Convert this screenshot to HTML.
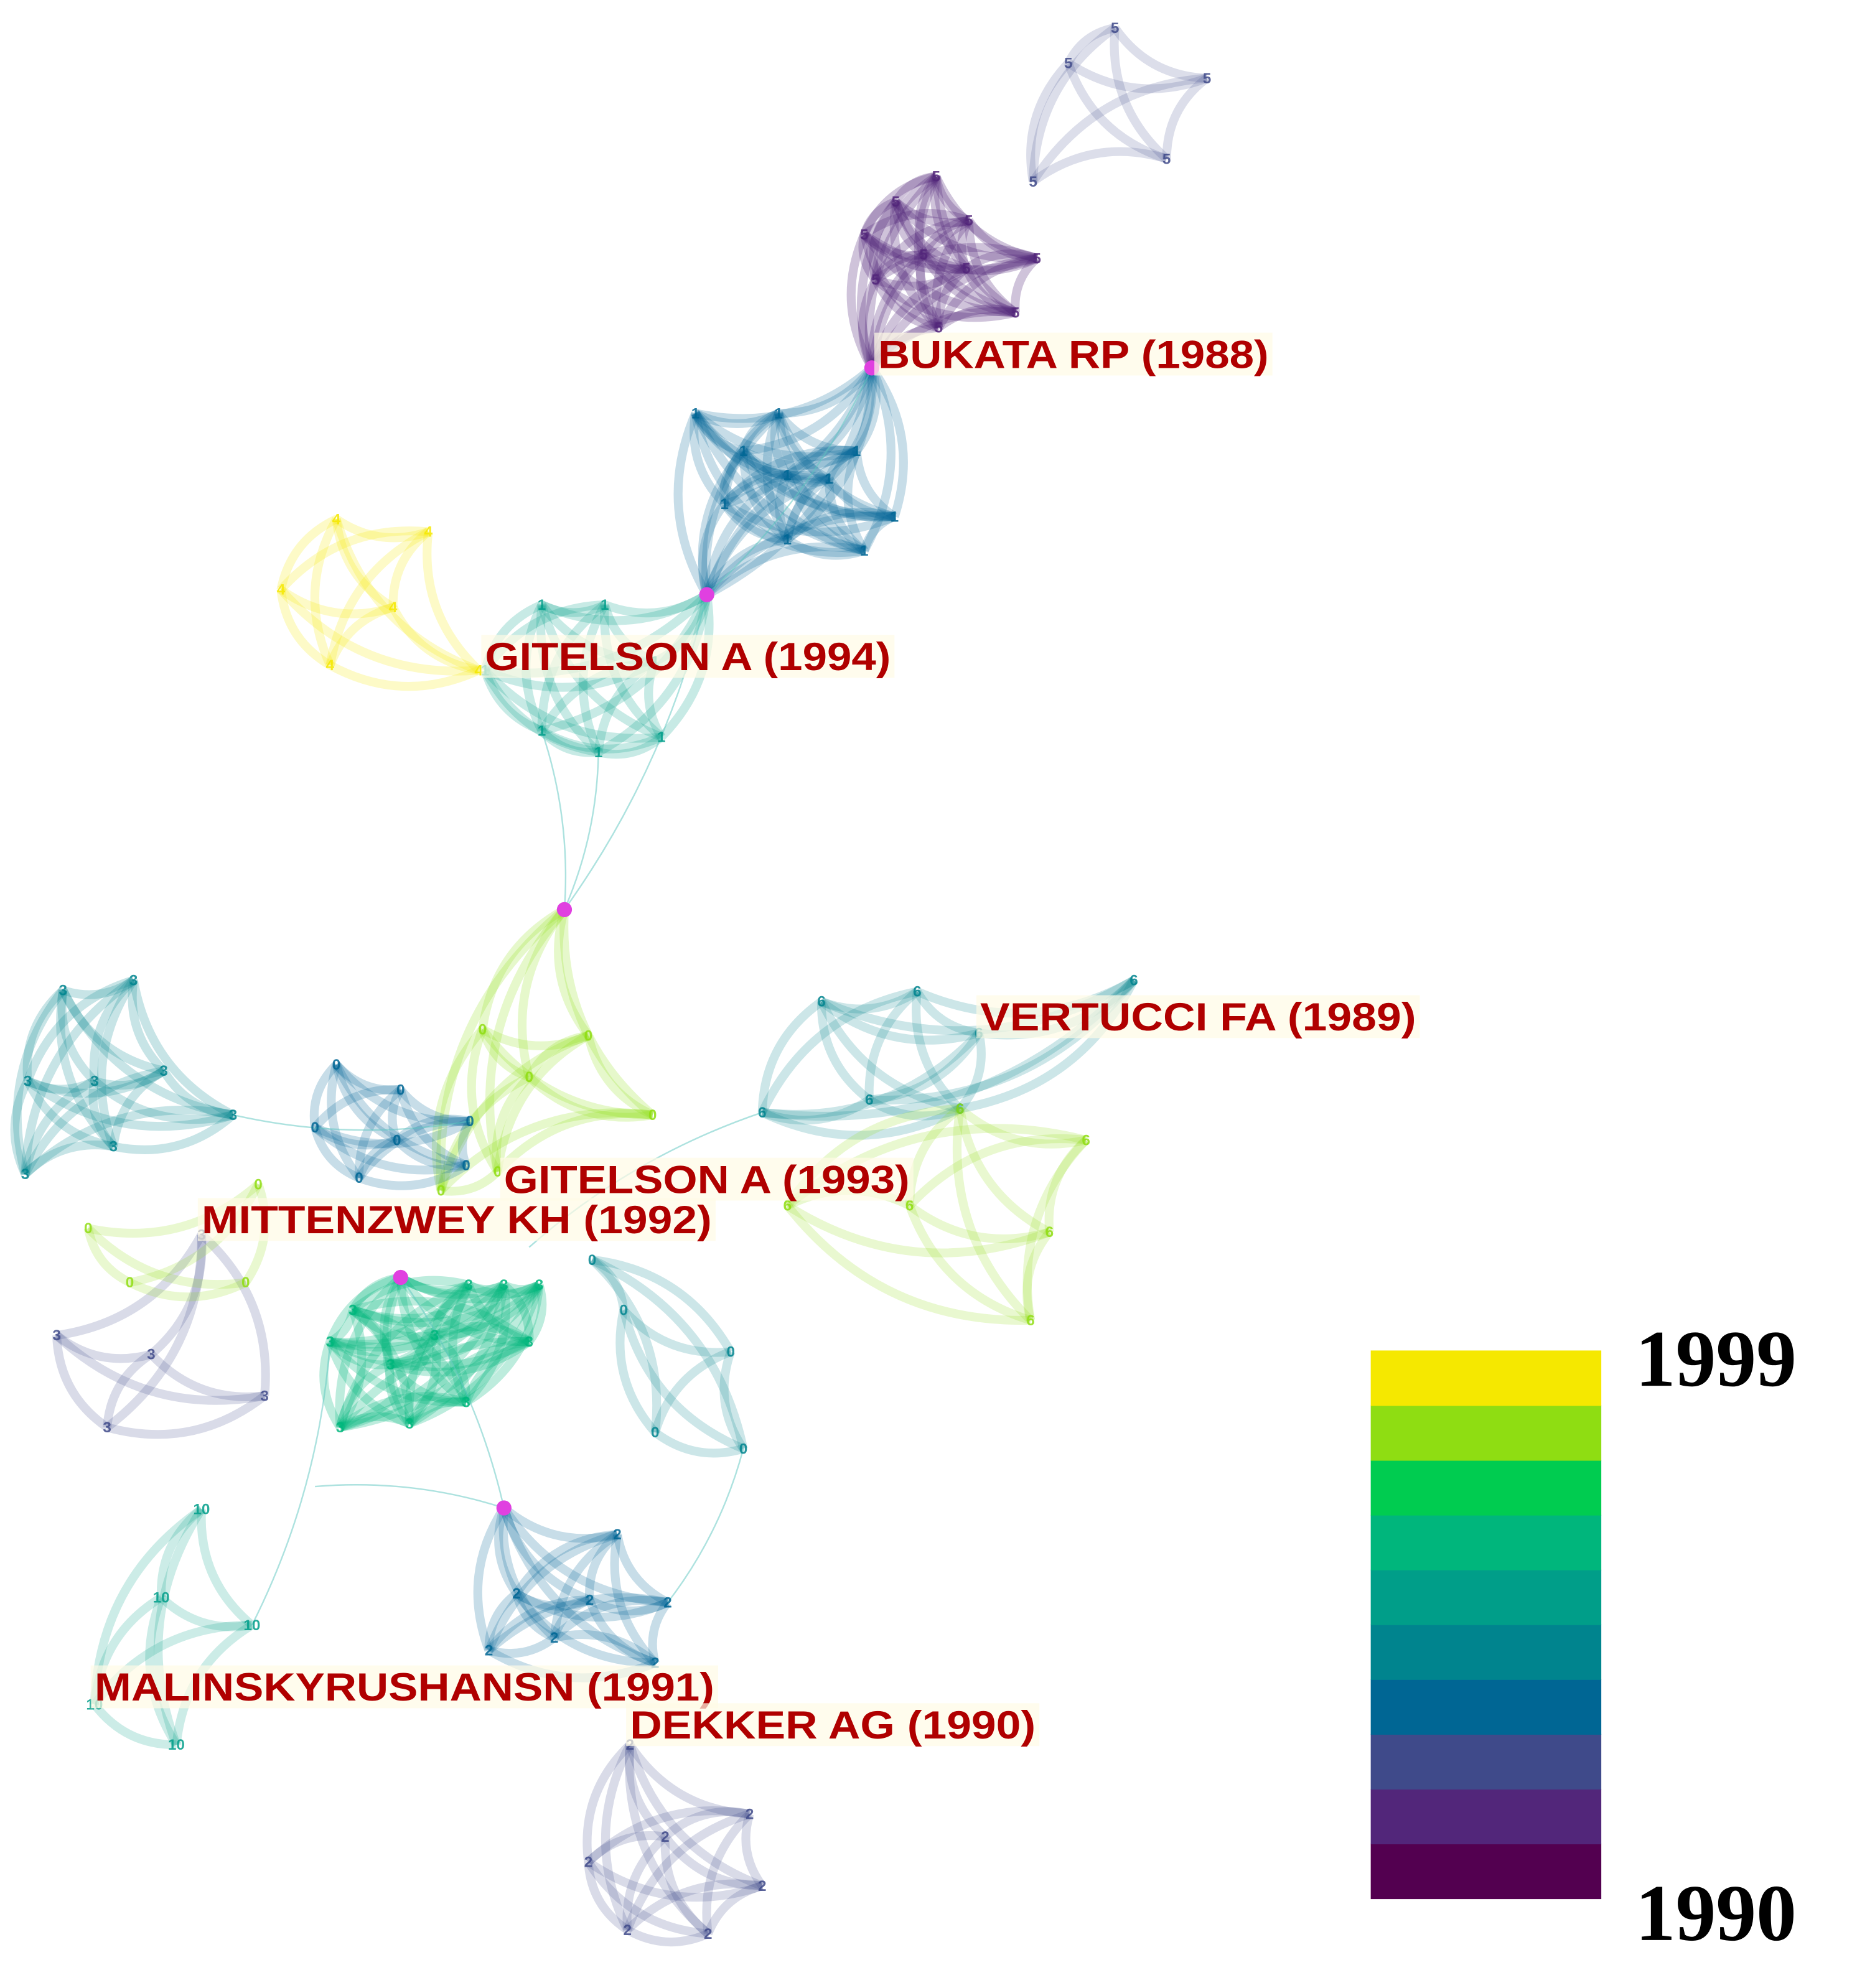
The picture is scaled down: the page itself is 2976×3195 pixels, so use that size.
<!DOCTYPE html>
<html><head><meta charset="utf-8"><style>
html,body{margin:0;padding:0;background:#fff;}
svg{display:block;}
</style></head><body>
<svg id="chart" width="2976" height="3195" viewBox="0 0 1470 1578" xmlns="http://www.w3.org/2000/svg">
<rect width="1470" height="1578" fill="#fff"/>
<g id="edges"></g>
<g id="nodes"></g>
<g id="labels"></g>
<g id="legend"></g>
</svg>
<script>
const years = [1990,1991,1992,1993,1994,1995,1996,1997,1998,1999];
const yearColors = ["#530050","#52267a","#3f4a8a","#006694","#00848e","#009e89","#00b67c","#00cc50","#8fdd12","#f5e800"];
const clusterYears = [1992,1991,1993,1999,1995,1998,1994,1993,1994,1998,1996,1992,1998,1994,1993,1992,1995];
const clusterTags = ["5","5","1","4","1","0","3","0","6","6","3","3","0","0","2","2","10"];
const clusterNodes = [
 [[885,22],[848,50],[958,62],[926,126],[820,144]],
 [[743,140],[711,160],[769,175],[686,186],[733,202],[823,205],[695,222],[767,213],[806,248],[745,260],[692,292]],
 [[552,328],[618,328],[590,358],[680,358],[625,377],[658,380],[575,400],[710,410],[625,428],[686,437],[561,472],[692,292]],
 [[267,412],[340,422],[223,468],[312,482],[262,528],[380,532]],
 [[430,480],[480,480],[385,532],[520,525],[430,580],[475,597],[525,585],[561,472]],
 [[448,722],[383,817],[467,822],[420,855],[518,885],[350,945],[395,930]],
 [[50,786],[106,778],[22,858],[75,858],[130,850],[90,910],[185,885],[20,932]],
 [[267,845],[318,865],[250,895],[373,890],[315,905],[285,935],[370,925]],
 [[652,795],[728,787],[605,883],[690,873],[762,880],[777,820],[900,778]],
 [[762,880],[862,905],[722,957],[625,957],[833,978],[818,1048]],
 [[318,1014],[262,1065],[310,1083],[372,1020],[420,1065],[370,1113],[325,1130],[270,1133],[280,1040],[345,1060],[400,1020],[428,1020]],
 [[45,1060],[120,1075],[85,1133],[210,1108],[160,980]],
 [[70,975],[103,1018],[195,1018],[205,940]],
 [[495,1040],[580,1073],[520,1137],[590,1150],[470,1000]],
 [[400,1197],[490,1218],[410,1265],[468,1270],[530,1272],[388,1310],[520,1320],[440,1300]],
 [[500,1385],[595,1440],[528,1458],[467,1478],[605,1497],[498,1532],[562,1535]],
 [[160,1198],[128,1268],[200,1290],[75,1353],[140,1385]]
];
const clusterOpacity = [0.18,0.28,0.22,0.22,0.22,0.22,0.22,0.22,0.2,0.2,0.26,0.2,0.2,0.2,0.22,0.2,0.2];
const hubNodes = [[448,722],[561,472],[692,292],[318,1014],[400,1197]];
const bridgeEdges = [[[448,722],[561,472]],[[448,722],[430,580]],[[448,722],[475,597]],[[561,472],[692,292]],[[400,1197],[318,1014]],[[400,1197],[250,1180]],[[200,1290],[262,1065]],[[185,885],[373,890]],[[605,883],[420,990]],[[530,1272],[590,1150]]];
const labelTexts = ["BUKATA RP (1988)","GITELSON A (1994)","VERTUCCI FA (1989)","GITELSON A (1993)","MITTENZWEY KH (1992)","MALINSKYRUSHANSN (1991)","DEKKER AG (1990)"];
const labelX = [697,385,778,400,160,75,500];
const labelY = [292,532,818,947,979,1350,1380];
const labelW = [310,322,346,322,405,492,322];

const NS="http://www.w3.org/2000/svg";
function mk(t,a,p){const e=document.createElementNS(NS,t);for(const k in a)e.setAttribute(k,a[k]);p.appendChild(e);return e;}
function colorOf(y){return yearColors[years.indexOf(y)];}
const eg=document.getElementById('edges'),ng=document.getElementById('nodes'),lg=document.getElementById('labels'),leg=document.getElementById('legend');
function curve(a,b,k){const mx=(a[0]+b[0])/2,my=(a[1]+b[1])/2,dx=b[0]-a[0],dy=b[1]-a[1];return `M${a[0]},${a[1]} Q${mx-dy*k},${my+dx*k} ${b[0]},${b[1]}`;}
clusterNodes.forEach((nodes,ci)=>{
 const c=colorOf(clusterYears[ci]);
 for(let i=0;i<nodes.length;i++)for(let j=i+1;j<nodes.length;j++){
  const p=mk('path',{d:curve(nodes[i],nodes[j],0.25),fill:'none',stroke:c,'stroke-width':7,'stroke-opacity':clusterOpacity[ci]},eg);
  
  
 }
});
bridgeEdges.forEach(b=>{
 const p=mk('path',{d:curve(b[0],b[1],0.1),fill:'none',stroke:'#5cc6c0','stroke-width':1.2,'stroke-opacity':0.5},eg);
 
 
});
clusterNodes.forEach((nodes,ci)=>{
 const c=colorOf(clusterYears[ci]);
 nodes.forEach(n=>{
  const t=mk('text',{x:n[0],y:n[1]+4,'font-family':'Liberation Sans, sans-serif','font-size':12,'font-weight':'bold','text-anchor':'middle',fill:c,'fill-opacity':0.85},ng);
  t.textContent=clusterTags[ci];
  
  
 });
});
hubNodes.forEach(h=>{
 const c=mk('circle',{cx:h[0],cy:h[1],r:6,fill:'#e040e0'},ng);
 
 
});
labelTexts.forEach((s,i)=>{
 const r=mk('rect',{x:labelX[i]-3,y:labelY[i]-28,width:labelW[i]+6,height:34,fill:'#fffbe6','fill-opacity':0.7},lg);
 
 
 const t=mk('text',{x:labelX[i],y:labelY[i],'font-family':'Liberation Sans, sans-serif','font-size':31,'font-weight':'bold',fill:'#b00000',textLength:labelW[i],lengthAdjust:'spacingAndGlyphs'},lg);
 t.textContent=s;
 
 
});
const cbX=1088,cbW=183,cbTop=1072,cbBot=1507,band=(cbBot-cbTop)/years.length;
years.forEach((y,i)=>{
 const r=mk('rect',{x:cbX,y:cbBot-(i+1)*band,width:cbW,height:band+0.5,fill:yearColors[i]},leg);
 
 
});
const t1=mk('text',{x:1298,y:1100,'font-family':'Liberation Serif, serif','font-size':64,'font-weight':'bold',fill:'#000'},leg);
t1.textContent=String(years[years.length-1]);


const t2=mk('text',{x:1298,y:1540,'font-family':'Liberation Serif, serif','font-size':64,'font-weight':'bold',fill:'#000'},leg);
t2.textContent=String(years[0]);


</script>
</body></html>
